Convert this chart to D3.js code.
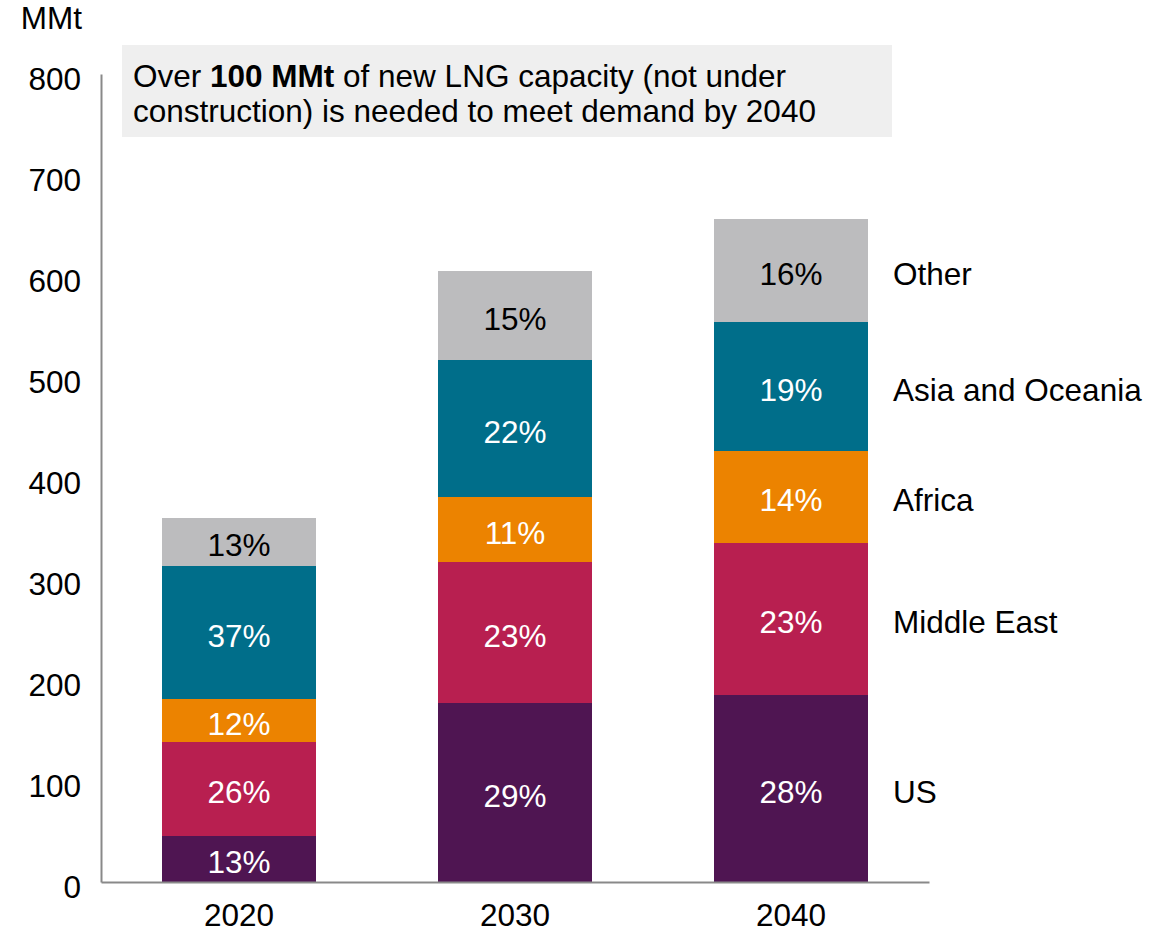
<!DOCTYPE html>
<html>
<head>
<meta charset="utf-8">
<script src="https://cdn.jsdelivr.net/npm/d3@7"></script>
<style>
  html, body { margin: 0; padding: 0; background: #fff; }
  svg { display: block; font-family: "Liberation Sans", Arial, sans-serif; }
</style>
</head>
<body>
<svg id="chart" width="1173" height="933"></svg>
<script>
// LNG supply capacity by region, MMt
const years = ["2020", "2030", "2040"];
const regions = ["US", "Middle East", "Africa", "Asia and Oceania", "Other"];
const us = [46, 177, 185];
const middleEast = [93, 140, 151];
const africa = [42, 64, 91];
const asiaOceania = [132, 136, 127];
const other = [47, 88, 102];
const yTicks = [0, 100, 200, 300, 400, 500, 600, 700, 800];

const colors = ["#4f1552", "#b81f50", "#ec8300", "#006e8a", "#bcbcbe"];
const labelColors = ["#fff", "#fff", "#fff", "#fff", "#000"];
const FONT = 31.5;

const seriesValues = [us, middleEast, africa, asiaOceania, other];
const rows = years.map((y, i) => {
  const r = { year: y };
  regions.forEach((k, j) => { r[k] = seriesValues[j][i]; });
  r.total = d3.sum(seriesValues, s => s[i]);
  return r;
});

const svg = d3.select("#chart");
const x = d3.scaleBand().domain(years).range([101, 929]).paddingInner(0.44).paddingOuter(0.22);
const y = d3.scaleLinear().domain([0, 800]).range([882, 74]);

const stacked = d3.stack().keys(regions)(rows);

// stacked bars
const layers = svg.append("g").selectAll("g").data(stacked).join("g")
  .attr("fill", (d, i) => colors[i]);
layers.selectAll("rect").data(d => d).join("rect")
  .attr("x", d => x(d.data.year))
  .attr("width", x.bandwidth())
  .attr("y", d => y(d[1]))
  .attr("height", d => y(d[0]) - y(d[1]))
  .attr("shape-rendering", "crispEdges");

// share labels inside segments
stacked.forEach((layer, i) => {
  svg.append("g").selectAll("text").data(layer).join("text")
    .attr("x", d => x(d.data.year) + x.bandwidth() / 2)
    .attr("y", d => (y(d[0]) + y(d[1])) / 2)
    .attr("dy", "0.45em")
    .attr("text-anchor", "middle")
    .attr("font-size", FONT)
    .attr("fill", labelColors[i])
    .text(d => Math.round((d[1] - d[0]) / d.data.total * 100) + "%");
});

// region names beside the last bar
const last = years.length - 1;
svg.append("g").selectAll("text").data(stacked).join("text")
  .attr("x", 893)
  .attr("y", d => (y(d[last][0]) + y(d[last][1])) / 2)
  .attr("dy", "0.45em")
  .attr("font-size", FONT)
  .attr("fill", "#000")
  .text(d => d.key);

// y axis
const yAxis = svg.append("g").attr("transform", "translate(101,0)")
  .call(d3.axisLeft(y).tickValues(yTicks).tickSize(0).tickPadding(20));
yAxis.select(".domain").attr("stroke", "#898989").attr("stroke-width", 2);
yAxis.selectAll("text").attr("font-size", FONT).attr("fill", "#000")
  .attr("font-family", "Liberation Sans, Arial, sans-serif").attr("dy", "0.48em");

// x axis
const xAxis = svg.append("g").attr("transform", "translate(0,882)")
  .call(d3.axisBottom(x).tickSize(0).tickPadding(22));
xAxis.select(".domain").attr("stroke", "#898989").attr("stroke-width", 2);
xAxis.selectAll("text").attr("font-size", FONT).attr("fill", "#000")
  .attr("font-family", "Liberation Sans, Arial, sans-serif");

// unit label
svg.append("text").attr("x", 82).attr("y", 29).attr("text-anchor", "end")
  .attr("font-size", FONT).attr("fill", "#000").text("MMt");

// callout box
svg.append("rect").attr("x", 122).attr("y", 45).attr("width", 770).attr("height", 92)
  .attr("fill", "#efefef");
const note = svg.append("text").attr("x", 133).attr("y", 87).attr("font-size", FONT).attr("fill", "#000");
note.append("tspan").text("Over ");
note.append("tspan").attr("font-weight", "bold").text("100 MMt");
note.append("tspan").text(" of new LNG capacity (not under");
svg.append("text").attr("x", 133).attr("y", 122).attr("font-size", FONT).attr("fill", "#000")
  .text("construction) is needed to meet demand by 2040");
</script>
</body>
</html>
